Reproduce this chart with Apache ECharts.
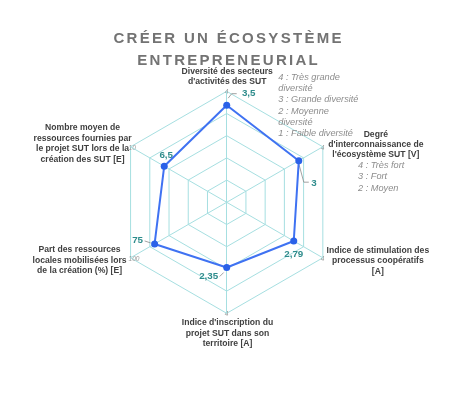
<!DOCTYPE html>
<html><head><meta charset="utf-8">
<script src="https://cdn.jsdelivr.net/npm/echarts@6/dist/echarts.min.js"></script>
<style>html,body{margin:0;padding:0;background:#fff}#c{width:455px;height:409px}</style>
</head><body><div id="c"></div>
<script>
// ---- data ----
const titleLines = ['CRÉER UN ÉCOSYSTÈME', 'ENTREPRENEURIAL'];
// indicators in ECharts order (counter-clockwise from top)
const axisNameLines = [
  ['Diversité des secteurs', "d'activités des SUT"],
  ['Nombre moyen de', 'ressources fournies par', 'le projet SUT lors de la', 'création des SUT [E]'],
  ['Part des ressources', 'locales mobilisées lors', 'de la création (%) [E]'],
  ["Indice d'inscription du", 'projet SUT dans son', 'territoire [A]'],
  ['Indice de stimulation des', 'processus coopératifs', '[A]'],
  ['Degré', "d'interconnaissance de", "l'écosystème SUT [V]"]
];
const axisMax = [4, 10, 100, 4, 4, 4];
const values = [3.5, 6.5, 75, 2.35, 2.79, 3];
const diversityScale = ['4 : Très grande', 'diversité', '3 : Grande diversité', '2 : Moyenne', 'diversité', '1 : Faible diversité'];
const interScale = ['4 : Très fort', '3 : Fort', '2 : Moyen'];

// ---- styles / layout ----
const FONT = "'Liberation Sans', Arial, sans-serif";
const GRID = '#a6dfe1';
const TEAL = '#2e8c8c';
const NAME = '#404040';
const SOFT = '#8c8c8c';

const chart = echarts.init(document.getElementById('c'));

const spaced = s => s.split('').map(c => '{s|' + c + '}').join('');

chart.setOption({
  animation: false,
  backgroundColor: '#fff',
  title: {
    text: titleLines.map(spaced).join('\n'),
    left: 'center',
    top: 28,
    padding: 0,
    textStyle: {
      fontFamily: FONT, fontSize: 15, fontWeight: 'bold', color: '#737373',
      rich: {
        s: { fontFamily: FONT, fontSize: 15, fontWeight: 'bold', color: '#737373', lineHeight: 22, padding: [0, 1.15, 0, 1.15] }
      }
    }
  },
  radar: {
    center: [226.7, 202.3],
    radius: 111,
    startAngle: 90,
    splitNumber: 5,
    shape: 'polygon',
    indicator: axisNameLines.map((l, i) => ({ name: l.join(' '), min: 0, max: axisMax[i] })),
    axisName: { show: false },
    axisLine: { lineStyle: { color: GRID, width: 1 } },
    splitLine: { lineStyle: { color: GRID, width: 1 } },
    splitArea: { show: false },
    axisTick: { show: false },
    axisLabel: { show: false }
  },
  series: [{
    type: 'radar',
    symbol: 'circle',
    symbolSize: 7,
    lineStyle: { color: '#3f72f2', width: 2 },
    itemStyle: { color: '#2a61e8' },
    data: [{ value: values, name: 'Écosystème' }]
  }]
});

const cs = chart.getModel().getComponent('radar').coordinateSystem;
const pt = (v, i) => cs.dataToPoint(v, i);

const g = [];
function txt(x, y, text, o) {
  g.push({ type: 'text', x, y, silent: true, style: Object.assign({
    text, fontFamily: FONT, fontSize: 8.6, fontWeight: 'bold', fill: NAME,
    align: 'center', verticalAlign: 'middle', lineHeight: 10.5
  }, o || {}) });
}
function poly(points) {
  g.push({ type: 'polyline', silent: true, shape: { points }, style: { stroke: '#8a8a8a', lineWidth: 0.8, fill: null } });
}

// axis names, anchored at axis ends
const ends = axisMax.map((m, i) => pt(m, i));
const nameOff = [
  { dx: 0.5, dy: -4, va: 'bottom' },
  { dx: -48, dy: -3, va: 'middle' },
  { dx: -51, dy: 2.7, va: 'middle' },
  { dx: 0.8, dy: 4.5, va: 'top' },
  { dx: 55, dy: 3, va: 'middle' },
  { dx: 53, dy: -2, va: 'middle', lh: 9.8 }
];
axisNameLines.forEach((l, i) => {
  const e = ends[i], o = nameOff[i];
  txt(e[0] + o.dx, e[1] + o.dy, l.join('\n'), { verticalAlign: o.va, lineHeight: o.lh || 10.5 });
});

// scale notes
txt(ends[0][0] + 51.6, ends[0][1] - 20, diversityScale.join('\n'),
  { align: 'left', verticalAlign: 'top', fontWeight: 'normal', fontStyle: 'italic', fill: SOFT, fontSize: 9.2, lineHeight: 11.35 });
txt(ends[5][0] + 35.2, ends[5][1] + 12.3, interScale.join('\n'),
  { align: 'left', verticalAlign: 'top', fontWeight: 'normal', fontStyle: 'italic', fill: SOFT, fontSize: 9.2, lineHeight: 11.7 });

// max tick labels
axisMax.forEach((m, i) => {
  const e = ends[i];
  txt(e[0] - 2, e[1] + 1, String(m), { align: 'left', fontWeight: 'normal', fontStyle: 'italic', fill: '#9a9a9a', fontSize: 6.5 });
});

// value labels with leader lines
const lab = [
  { dx: 22, dy: -11.5, al: 'center', lead: [[1.5, -7], [5, -11.5], [10, -11.5]] },
  { dx: 2, dy: -10.7, al: 'center', lead: null },
  { dx: -17, dy: -3.3, al: 'center', lead: [[-10, -3], [-4, -1]] },
  { dx: -18, dy: 9, al: 'center', lead: [[-7, 9], [-3, 5]] },
  { dx: 0, dy: 13, al: 'center', lead: null },
  { dx: 12.5, dy: 22.5, al: 'left', lead: [[0, 3], [5, 21.5], [10, 21.5]] }
];
values.forEach((v, i) => {
  const p = pt(v, i), o = lab[i];
  if (o.lead) poly(o.lead.map(d => [p[0] + d[0], p[1] + d[1]]));
  txt(p[0] + o.dx, p[1] + o.dy, String(v).replace('.', ','), { align: o.al, fill: TEAL, fontSize: 9.8 });
});

chart.setOption({ graphic: g });
</script>
</body></html>
